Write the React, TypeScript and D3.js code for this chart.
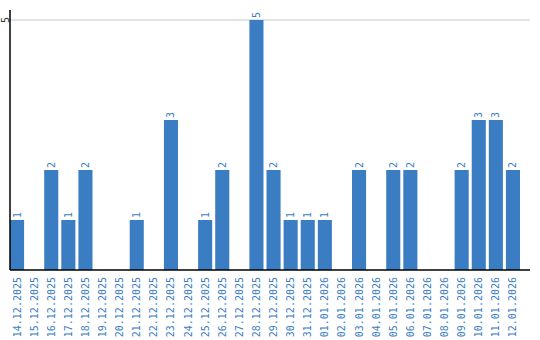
import React from "react";
import * as d3 from "d3";

const dates = [
  "14.12.2025","15.12.2025","16.12.2025","17.12.2025","18.12.2025","19.12.2025","20.12.2025",
  "21.12.2025","22.12.2025","23.12.2025","24.12.2025","25.12.2025","26.12.2025","27.12.2025",
  "28.12.2025","29.12.2025","30.12.2025","31.12.2025","01.01.2026","02.01.2026","03.01.2026",
  "04.01.2026","05.01.2026","06.01.2026","07.01.2026","08.01.2026","09.01.2026","10.01.2026",
  "11.01.2026","12.01.2026",
];
const counts = [1,0,2,1,2,0,0,1,0,3,0,1,2,0,5,2,1,1,1,0,2,0,2,2,0,0,2,3,3,2];
const yTicks = [5];

const W = 540, H = 340;
const left = 10, right = 530, top = 20, bottom = 270;
const barColor = "#3b7dc3";
const font = "'DejaVu Sans Mono', monospace";

export default function App() {
  const x = d3.scaleBand<string>().domain(dates).range([left, left + 17 * dates.length]).paddingInner(3 / 17).paddingOuter(0).align(0);
  const y = d3.scaleLinear().domain([0, 5]).range([bottom, top]);
  return (
    <svg width={W} height={H} style={{ position: "absolute", left: 0, top: 0, display: "block" }}>
      {yTicks.map((t) => (
        <g key={t}>
          <line x1={left} x2={right} y1={y(t)} y2={y(t)} stroke="#c8c8c8" strokeWidth={1} />
          <text transform={`translate(9,${y(t)}) rotate(-90)`} textAnchor="middle" fontFamily={font} fontSize={10} fill="#333">{t}</text>
        </g>
      ))}
      {dates.map((d, i) => {
        const v = counts[i];
        const bx = x(d)!;
        const bw = x.bandwidth();
        const cx = bx + bw / 2;
        return (
          <g key={d}>
            {v > 0 && <rect x={bx} y={y(v)} width={bw} height={bottom - y(v)} fill={barColor} />}
            {v > 0 && (
              <text transform={`translate(${cx + 3.5},${y(v) - 2}) rotate(-90)`} textAnchor="start" fontFamily={font} fontSize={10} fill={barColor}>{v}</text>
            )}
            <text transform={`translate(${cx + 3.5},${bottom + 7}) rotate(-90)`} textAnchor="end" fontFamily={font} fontSize={10} fill={barColor}>{d}</text>
          </g>
        );
      })}
      <line x1={left} x2={left} y1={10} y2={bottom} stroke="#000" strokeWidth={1.5} />
      <line x1={left} x2={right} y1={bottom} y2={bottom} stroke="#000" strokeWidth={1.5} />
    </svg>
  );
}
